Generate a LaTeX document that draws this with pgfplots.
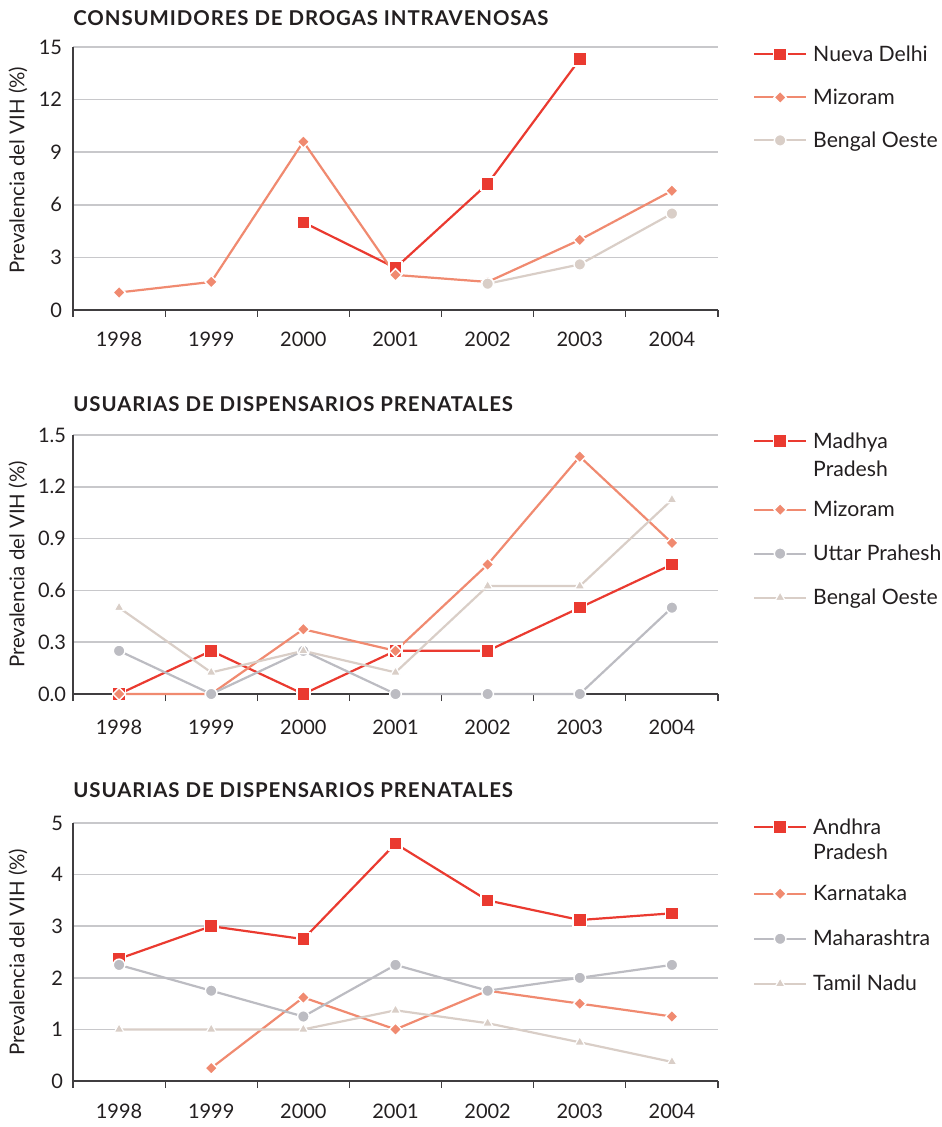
\documentclass[border=0pt]{standalone}
\usepackage{fontspec}
\setmainfont{Lato}
\usepackage{pgfplots}
\pgfplotsset{compat=1.18}
\definecolor{cred}{RGB}{234,58,48}
\definecolor{csal}{RGB}{240,138,112}
\definecolor{cbeige}{RGB}{217,206,199}
\definecolor{cgray}{RGB}{188,188,194}
\definecolor{cgrid}{RGB}{200,200,203}
\definecolor{caxis}{RGB}{64,62,64}
\definecolor{ctext}{RGB}{35,31,32}
% struts: \rule[-depth]{0pt}{height+depth}
\newcommand{\Ns}{\rule[-8.5pt]{0pt}{21.5pt}}
\newcommand{\Ms}{\rule[-9pt]{0pt}{22pt}}
\newcommand{\Ls}{\rule[-9.5pt]{0pt}{22.5pt}}
\newcommand{\Fs}{\rule{0pt}{13pt}}
\newcommand{\Ss}{\rule[-7.8pt]{0pt}{20.3pt}}
\pgfplotsset{
  panel/.style={
    scale only axis, width=322.5pt, anchor=north west,
    xmin=-0.5, xmax=6.5,
    xtick={0,1,2,3,4,5,6},
    xticklabels={1998,1999,2000,2001,2002,2003,2004},
    minor xtick={-0.5,0.5,1.5,2.5,3.5,4.5,5.5,6.5},
    axis x line*=bottom, axis y line*=left,
    x axis line style={draw=caxis, line width=1pt, -},
    y axis line style={draw=caxis, line width=0.6pt, -},
    major x tick style={draw=none},
    minor x tick style={draw=caxis, line width=0.6pt},
    minor tick length=3.5pt, tick align=outside,
    ytick style={draw=none},
    ymajorgrids, major grid style={draw=cgrid, line width=0.8pt},
    tick label style={font=\fontsize{10}{12}\selectfont, text=ctext, inner sep=0pt},
    clip=false,
    ylabel={Prevalencia del VIH (\%)},
    label style={font=\fontsize{10.2}{12}\selectfont, text=ctext, inner sep=0pt},
    every axis title/.style={anchor=base west, at={(axis description cs:0,1)}, inner sep=0pt,
      font=\bfseries\fontsize{10.2}{12}\selectfont\addfontfeatures{LetterSpace=4.5}, text=ctext},
    legend style={draw=none, fill=none, inner sep=0pt, outer sep=0pt, row sep=0pt, column sep=3pt,
      font=\fontsize{10.6}{12.5}\selectfont, text=ctext, cells={anchor=base west},
      nodes={inner sep=0pt, text height=, text depth=}, anchor=north west},
    legend image code/.code={\draw[mark repeat=2, mark phase=2, #1] plot coordinates {(0pt,3.5pt) (13pt,3.5pt) (26pt,3.5pt)};},
  },
  sq/.style={cred, line width=1.1pt, mark=square*, mark size=3.3pt, mark options={fill=cred, draw=white, line width=0.8pt}},
  dm/.style={csal, line width=1.1pt, mark=square*, mark size=2.2pt, mark options={rotate=45, fill=csal, draw=white, line width=0.7pt}},
  ci/.style={#1, line width=1.1pt, mark=*, mark size=2.9pt, mark options={fill=#1, draw=white, line width=0.7pt}},
  tr/.style={cbeige, line width=1.1pt, mark=triangle*, mark size=2.9pt, mark options={fill=cbeige, draw=white, line width=0.6pt}},
}
\begin{document}
\color{ctext}
\begin{tikzpicture}
\path[use as bounding box] (0,0) rectangle (470.5pt,-563.5pt);
% Panel 1
\begin{axis}[panel, at={(36.5pt,-23.5pt)}, height=131.5pt,
  ymin=0, ymax=15, ytick={0,3,6,9,12,15}, yticklabels={0,3,6,9,12,15},
  yticklabel style={anchor=east, xshift=-1pt},
  xticklabel style={anchor=base, yshift=-13.8pt},
  ylabel style={at={(axis description cs:-0.0853,0.532)}, anchor=center},
  title={CONSUMIDORES DE DROGAS INTRAVENOSAS}, title style={yshift=10.5pt},
  legend style={at={(axis description cs:1.0543,1)}, yshift=5.8pt}]
\addplot[sq] coordinates {(2,5.0)(3,2.4)(4,7.2)(5,14.3)};
\addlegendentry{\Ns Nueva Delhi}
\addplot[dm] coordinates {(0,1.0)(1,1.6)(2,9.6)(3,2.0)(4,1.6)(5,4.0)(6,6.8)};
\addlegendentry{\Ns Mizoram}
\addplot[ci=cbeige] coordinates {(4,1.5)(5,2.6)(6,5.5)};
\addlegendentry{\Ns Bengal Oeste}
\end{axis}
% Panel 2
\begin{axis}[panel, at={(36.5pt,-217.5pt)}, height=129.5pt,
  ymin=0, ymax=1.5, ytick={0,0.3,0.6,0.9,1.2,1.5},
  yticklabels={0.0,0.3,0.6,0.9,1.2,1.5},
  yticklabel style={anchor=east, xshift=1pt},
  xticklabel style={anchor=base, yshift=-16pt},
  ylabel style={at={(axis description cs:-0.0853,0.5)}, anchor=center},
  title={USUARIAS DE DISPENSARIOS PRENATALES}, title style={yshift=11.5pt},
  legend style={at={(axis description cs:1.0543,1)}, yshift=6.5pt}]
\addplot[sq] coordinates {(0,0)(1,0.25)(2,0)(3,0.25)(4,0.25)(5,0.5)(6,0.75)};
\addlegendentry{\Fs Madhya}
\addlegendimage{empty legend}
\addlegendentry{\rule[-7pt]{0pt}{19.5pt}Pradesh}
\addplot[dm] coordinates {(0,0)(1,0)(2,0.375)(3,0.25)(4,0.75)(5,1.375)(6,0.875)};
\addlegendentry{\Ms Mizoram}
\addplot[ci=cgray] coordinates {(0,0.25)(1,0)(2,0.25)(3,0)(4,0)(5,0)(6,0.5)};
\addlegendentry{\Ms Uttar Prahesh}
\addplot[tr] coordinates {(0,0.5)(1,0.125)(2,0.25)(3,0.125)(4,0.625)(5,0.625)(6,1.125)};
\addlegendentry{\Ms Bengal Oeste}
\end{axis}
% Panel 3
\begin{axis}[panel, at={(36.5pt,-411.5pt)}, height=129pt,
  ymin=0, ymax=5, ytick={0,1,2,3,4,5}, yticklabels={0,1,2,3,4,5},
  yticklabel style={anchor=east, xshift=-0.5pt},
  xticklabel style={anchor=base, yshift=-14.5pt},
  ylabel style={at={(axis description cs:-0.0853,0.5)}, anchor=center},
  title={USUARIAS DE DISPENSARIOS PRENATALES}, title style={yshift=13pt},
  legend style={at={(axis description cs:1.0543,1)}, yshift=7.5pt}]
\addplot[sq] coordinates {(0,2.37)(1,3.0)(2,2.75)(3,4.6)(4,3.5)(5,3.12)(6,3.25)};
\addlegendentry{\Fs Andhra}
\addlegendimage{empty legend}
\addlegendentry{\Ss Pradesh}
\addplot[dm] coordinates {(1,0.25)(2,1.62)(3,1.0)(4,1.75)(5,1.5)(6,1.25)};
\addlegendentry{\Ls Karnataka}
\addplot[ci=cgray] coordinates {(0,2.25)(1,1.75)(2,1.25)(3,2.25)(4,1.75)(5,2.0)(6,2.25)};
\addlegendentry{\Ls Maharashtra}
\addplot[tr] coordinates {(0,1.0)(1,1.0)(2,1.0)(3,1.37)(4,1.12)(5,0.75)(6,0.37)};
\addlegendentry{\Ls Tamil Nadu}
\end{axis}
\end{tikzpicture}
\end{document}
